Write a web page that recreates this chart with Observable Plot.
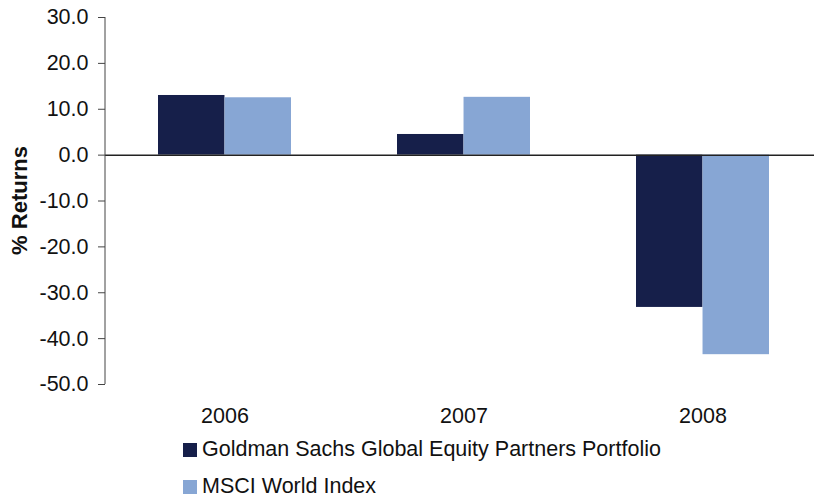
<!DOCTYPE html>
<html>
<head>
<meta charset="utf-8">
<script src="https://cdn.jsdelivr.net/npm/d3@7"></script>
<script src="https://cdn.jsdelivr.net/npm/@observablehq/plot@0.6"></script>
<style>
  html, body { margin: 0; padding: 0; background: #fff; }
  #wrap { position: relative; width: 814px; height: 500px; font-family: "Liberation Sans", Arial, sans-serif; }
  #legend { position: absolute; left: 183px; top: 431px; font-size: 21.5px; color: #111; }
  .row { display: flex; align-items: center; height: 37px; }
  .sw { width: 14px; height: 14px; margin-right: 5px; }
</style>
</head>
<body>
<div id="wrap">
  <div id="chart"></div>
  <div id="legend"></div>
</div>
<script>
const years = ["2006", "2007", "2008"];
const seriesNames = ["Goldman Sachs Global Equity Partners Portfolio", "MSCI World Index"];
const goldmanValues = [13.0, 4.5, -33.2];
const msciValues = [12.5, 12.6, -43.5];
const yTicks = [30, 20, 10, 0, -10, -20, -30, -40, -50];
const colors = ["#161f4a", "#87a6d4"];

const W = 814, H = 430, ML = 105, MR = -8, MT = 17, MB = 46;
const padIn = 0.444, padOut = 0.22;
const step = (W - ML - MR) / (years.length - padIn + 2 * padOut);
const half = step * (1 - padIn) / 2;

const gs = years.map((y, i) => ({year: y, value: goldmanValues[i]}));
const ms = years.map((y, i) => ({year: y, value: msciValues[i]}));

const font = "Liberation Sans, Arial, sans-serif";
const FS = 21.5;

const plot = Plot.plot({
  width: W, height: H,
  marginLeft: ML, marginRight: MR, marginTop: MT, marginBottom: MB,
  style: {fontFamily: font, fontSize: FS + "px", color: "#111", background: "white", overflow: "visible"},
  x: {domain: years, paddingInner: padIn, paddingOuter: padOut, align: 0.5, label: null},
  y: {domain: [-50, 30], label: null},
  marks: [
    Plot.barY(gs, {x: "year", y: "value", fill: colors[0], insetRight: half}),
    Plot.barY(ms, {x: "year", y: "value", fill: colors[1], insetLeft: half}),
    Plot.ruleY([0], {stroke: "#222", strokeWidth: 1.5}),
    Plot.axisY({ticks: yTicks, tickSize: 7, tickPadding: 10, tickFormat: d => d.toFixed(1), label: null, fontSize: FS, stroke: "#444"}),
    Plot.axisX({tickSize: 0, tickPadding: 23, label: null, fontSize: FS})
  ]
});

// y axis line and title, positioned with Plot's own y scale
const ys = plot.scale("y");
const svg = d3.select(plot.tagName.toLowerCase() === "svg" ? plot : plot.querySelector("svg"));
svg.append("line")
  .attr("x1", ML).attr("x2", ML)
  .attr("y1", ys.apply(30)).attr("y2", ys.apply(-50))
  .attr("stroke", "#444").attr("stroke-width", 1);
svg.append("text")
  .attr("transform", `translate(21,${(ys.apply(30) + ys.apply(-50)) / 2}) rotate(-90)`)
  .attr("text-anchor", "middle").attr("dominant-baseline", "middle")
  .attr("font-weight", "bold").attr("font-size", 22).attr("font-family", font)
  .attr("fill", "#111")
  .text("% Returns");

document.getElementById("chart").appendChild(plot);

const legend = d3.select("#legend");
seriesNames.forEach((name, i) => {
  const row = legend.append("div").attr("class", "row");
  row.append("div").attr("class", "sw").style("background", colors[i]);
  row.append("span").text(name);
});
</script>
</body>
</html>
